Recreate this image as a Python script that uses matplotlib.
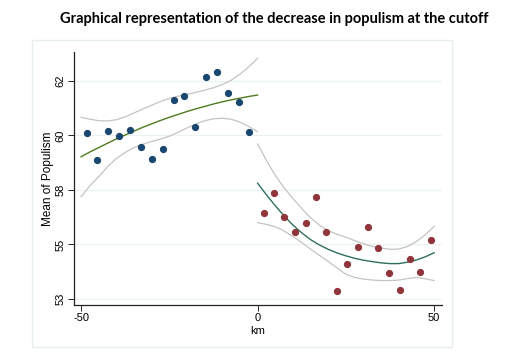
import numpy as np
import matplotlib
matplotlib.use("Agg")
import matplotlib.pyplot as plt
from matplotlib.patches import Rectangle

# binned means, left of the cutoff
km_left = [-48.4, -45.4, -42.3, -39.3, -36.1, -33.0, -29.9, -26.9,
           -23.8, -20.8, -17.7, -14.5, -11.5, -8.4, -5.3, -2.3]
pop_left = [59.84, 58.74, 59.95, 59.74, 59.99, 59.27, 58.77, 59.19,
            61.22, 61.38, 60.11, 62.18, 62.38, 61.49, 61.15, 59.91]

# binned means, right of the cutoff
km_right = [1.7, 4.6, 7.6, 10.6, 13.6, 16.6, 19.5, 22.4, 25.4,
            28.4, 31.3, 34.2, 37.2, 40.2, 43.2, 46.1, 49.1]
pop_right = [56.56, 57.36, 56.37, 55.75, 56.14, 57.22, 55.78, 53.34, 54.46,
             55.15, 55.96, 55.09, 54.09, 53.38, 54.65, 54.10, 55.44]

# fitted curve + confidence band, every 2.5 km
grid_left = [-50, -47.5, -45, -42.5, -40, -37.5, -35, -32.5, -30, -27.5, -25,
             -22.5, -20, -17.5, -15, -12.5, -10, -7.5, -5, -2.5, 0]
fit_left = [58.87, 59.07, 59.25, 59.43, 59.61, 59.77, 59.93, 60.09, 60.23, 60.37, 60.50,
            60.62, 60.74, 60.85, 60.95, 61.05, 61.14, 61.22, 61.29, 61.36, 61.42]
hi_left = [60.50, 60.42, 60.36, 60.35, 60.40, 60.52, 60.68, 60.84, 61.00, 61.15, 61.28,
           61.37, 61.45, 61.53, 61.62, 61.72, 61.85, 62.03, 62.28, 62.58, 62.94]
lo_left = [57.22, 57.67, 58.05, 58.46, 58.80, 59.05, 59.25, 59.39, 59.50, 59.60, 59.72,
           59.88, 60.06, 60.22, 60.36, 60.44, 60.46, 60.42, 60.30, 60.12, 59.91]

grid_right = [0, 2.5, 5, 7.5, 10, 12.5, 15, 17.5, 20, 22.5, 25,
              27.5, 30, 32.5, 35, 37.5, 40, 42.5, 45, 47.5, 50]
fit_right = [57.78, 57.30, 56.85, 56.43, 56.05, 55.73, 55.45, 55.23, 55.05, 54.90, 54.78,
             54.68, 54.60, 54.54, 54.49, 54.46, 54.46, 54.52, 54.61, 54.74, 54.91]
hi_right = [59.40, 58.72, 58.10, 57.59, 57.15, 56.73, 56.35, 56.05, 55.82, 55.67, 55.55,
            55.41, 55.28, 55.17, 55.10, 55.05, 55.06, 55.17, 55.37, 55.65, 56.00]
lo_right = [56.15, 56.08, 55.98, 55.81, 55.58, 55.33, 55.06, 54.80, 54.55, 54.28, 54.02,
            53.89, 53.82, 53.78, 53.76, 53.76, 53.78, 53.84, 53.89, 53.83, 53.76]

ytick_vals = [53, 55.25, 57.5, 59.75, 62]
ytick_labels = ["53", "55", "58", "60", "62"]
xtick_vals = [-50, 0, 50]

plt.rcParams['font.family'] = ['Liberation Sans', 'DejaVu Sans']

fig = plt.figure(figsize=(5.25, 3.58), dpi=100)
fig.patch.set_facecolor("white")

# graph region border (stata style)
fig.patches.append(Rectangle((0.061, 0.031), 0.800, 0.857, transform=fig.transFigure,
                             fill=False, edgecolor="#e6eeee", linewidth=1.0))

fig.text(0.522, 0.947, "Graphical representation of the decrease in populism at the cutoff",
         ha="center", va="center", fontsize=10.5, fontweight="bold",
         family=["Lato", "DejaVu Sans"])

ax = fig.add_axes([0.141, 0.148, 0.700, 0.707])

ci_col = "#c4c4c4"
ax.plot(grid_left, hi_left, color=ci_col, lw=0.9)
ax.plot(grid_left, lo_left, color=ci_col, lw=0.9)
ax.plot(grid_right, hi_right, color=ci_col, lw=0.9)
ax.plot(grid_right, lo_right, color=ci_col, lw=0.9)
ax.plot(grid_left, fit_left, color="#4f7a1f", lw=1.0)
ax.plot(grid_right, fit_right, color="#2f6e5e", lw=1.0)

ax.plot(km_left, pop_left, "o", color="#1a476f", markersize=4.2, zorder=3)
ax.plot(km_right, pop_right, "o", color="#90353b", markersize=4.2, zorder=3)

ax.set_xlim(-52, 52.1)
ax.set_ylim(52.75, 63.2)
ax.set_yticks(ytick_vals)
ax.set_yticklabels(ytick_labels, rotation=90, va="center")
ax.set_xticks(xtick_vals)
ax.set_xticklabels(["-50", "0", "50"])
ax.grid(axis="y", color="#eaf2f3", lw=0.9)
ax.set_axisbelow(True)
for s in ["top", "right"]:
    ax.spines[s].set_visible(False)
for s in ["left", "bottom"]:
    ax.spines[s].set_color("#222222")
    ax.spines[s].set_linewidth(0.9)
ax.tick_params(labelsize=8, length=4, width=0.7, color="#222222", pad=2)
ax.set_xlabel("km", fontsize=8, labelpad=2)
ax.set_ylabel("Mean of Populism", fontsize=8.5, labelpad=1)

fig.savefig("out.png", dpi=100)
